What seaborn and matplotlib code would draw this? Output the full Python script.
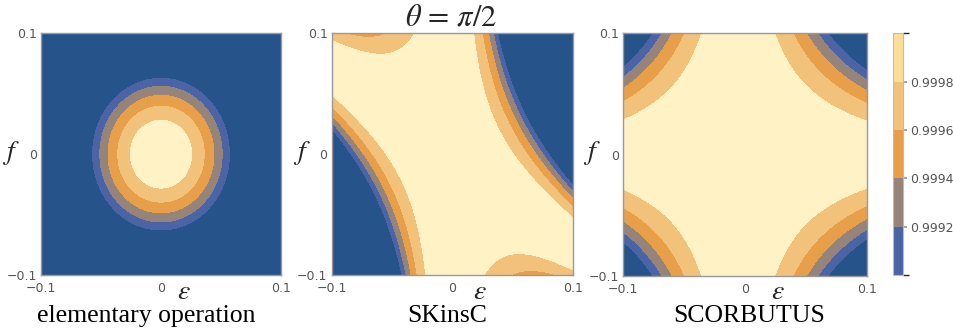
import numpy as np
import matplotlib
matplotlib.use("Agg")
import matplotlib.pyplot as plt
import seaborn as sns
from matplotlib.colors import ListedColormap, BoundaryNorm
import matplotlib as mpl

sns.set_theme(style="white")
plt.rcParams['font.family'] = ['DejaVu Sans']
plt.rcParams['mathtext.fontset'] = 'stix'

# ---------------- data ----------------
titles = ["elementary operation", "SKinsC", "SCORBUTUS"]
levels = [0.9990, 0.9992, 0.9994, 0.9996, 0.9998]
cbar_ticks = [0.9992, 0.9994, 0.9996, 0.9998]
axis_ticks = [-0.1, 0.0, 0.1]
axis_ticklabels = ["\u22120.1", "0", "0.1"]

# infidelity models, with e = eps/0.1 and u = f/0.1
# elementary operation: 1-F = a e^2 + b u^2 + c e u
p1_coef = [3.08e-3, 2.54e-3, 0.0]
# SKinsC: 1-F = Q^2, Q = q0 + q1 e + q2 u + q3 e^2 + q4 e u + q5 u^2
p2_coef = [0.001753, 0.001959, 0.00145, 0.044756, 0.062207, -0.001707]
# SCORBUTUS: 1-F = sum c_k * e^i u^j for the exponents below
p3_pow = [(2, 2), (4, 0), (0, 4), (3, 2), (1, 2), (2, 0), (0, 2), (2, 4), (4, 2)]
p3_coef = [1.8184e-03, 1.1233e-05, 4.3407e-07, -1.5433e-04, 2.2098e-04,
           3.7192e-05, 3.9891e-05, -3.9206e-05, 7.2025e-05]

fill_colors = ["#265389", "#4A64A5", "#96837A", "#E89F4A", "#F3C27A", "#FFF2C4"]
cbar_colors = ["#4A64A5", "#96837A", "#E89F4A", "#F3C27A", "#FEDE96"]

# ---------------- fields ----------------
g = np.linspace(-0.1, 0.1, 401)
E, F = np.meshgrid(g, g)
X, Y = E / 0.1, F / 0.1
Z1 = 1 - (p1_coef[0] * X**2 + p1_coef[1] * Y**2 + p1_coef[2] * X * Y)
q = p2_coef
Q2 = q[0] + q[1] * X + q[2] * Y + q[3] * X * X + q[4] * X * Y + q[5] * Y * Y
Z2 = 1 - Q2**2
Z3 = 1 - sum(c * X**i * Y**j for c, (i, j) in zip(p3_coef, p3_pow))

# ---------------- figure ----------------
W, H = 954, 332
fig = plt.figure(figsize=(W / 100, H / 100), dpi=100)
boxes = [(41, 33.3, 281, 275), (331.7, 33.3, 573.3, 275), (623.3, 33.3, 866.7, 276)]


def frac(b):
    x0, y0, x1, y1 = b
    return [x0 / W, 1 - y1 / H, (x1 - x0) / W, (y1 - y0) / H]


bounds = [-10] + levels + [10]
for Z, b in zip([Z1, Z2, Z3], boxes):
    ax = fig.add_axes(frac(b))
    ax.contourf(E, F, Z, levels=bounds, colors=fill_colors)
    ax.set_xlim(-0.1, 0.1)
    ax.set_ylim(-0.1, 0.1)
    ax.set_xticks(axis_ticks)
    ax.set_yticks(axis_ticks)
    ax.set_xticklabels(axis_ticklabels)
    ax.set_yticklabels(axis_ticklabels)
    ax.tick_params(direction='in', length=3, width=0.8, color='#999999', labelcolor='#555555',
                   labelsize=9, pad=3, bottom=True, left=True)
    ax.tick_params(axis='x', pad=5)
    for s in ax.spines.values():
        s.set_color('#999999')
        s.set_linewidth(1.0)

epsx = [183.5, 480, 777.5]
fx = [11, 301.5, 591.5]
subx = [146.5, 446.7, 749]
for i in range(3):
    fig.text(epsx[i] / W, 1 - 291 / H, r'$\varepsilon$', fontsize=20, ha='center', va='center')
    fig.text(fx[i] / W, 1 - 153 / H, r'$f$', fontsize=20, ha='center', va='center')
    fig.text(subx[i] / W, 1 - 321.7 / H, titles[i], fontsize=18.5, ha='center', va='baseline',
             family='Liberation Serif', color='black')
fig.text(451 / W, 1 - 25 / H, r'$\theta\,=\,\pi/2$', fontsize=22, ha='center', va='baseline')

cax = fig.add_axes(frac((893.3, 33.3, 903.3, 275)))
cmap = ListedColormap(cbar_colors)
norm = BoundaryNorm(levels + [1.0], cmap.N)
cb = fig.colorbar(mpl.cm.ScalarMappable(norm=norm, cmap=cmap), cax=cax, ticks=cbar_ticks)
cb.ax.set_yticklabels(["%.4f" % t for t in cbar_ticks])
cb.ax.tick_params(length=3, color='#999999', labelcolor='#555555', labelsize=9, pad=2)
cb.outline.set_edgecolor('#bbbbbb')
cb.outline.set_linewidth(0.8)

fig.savefig("out.png", dpi=100)
